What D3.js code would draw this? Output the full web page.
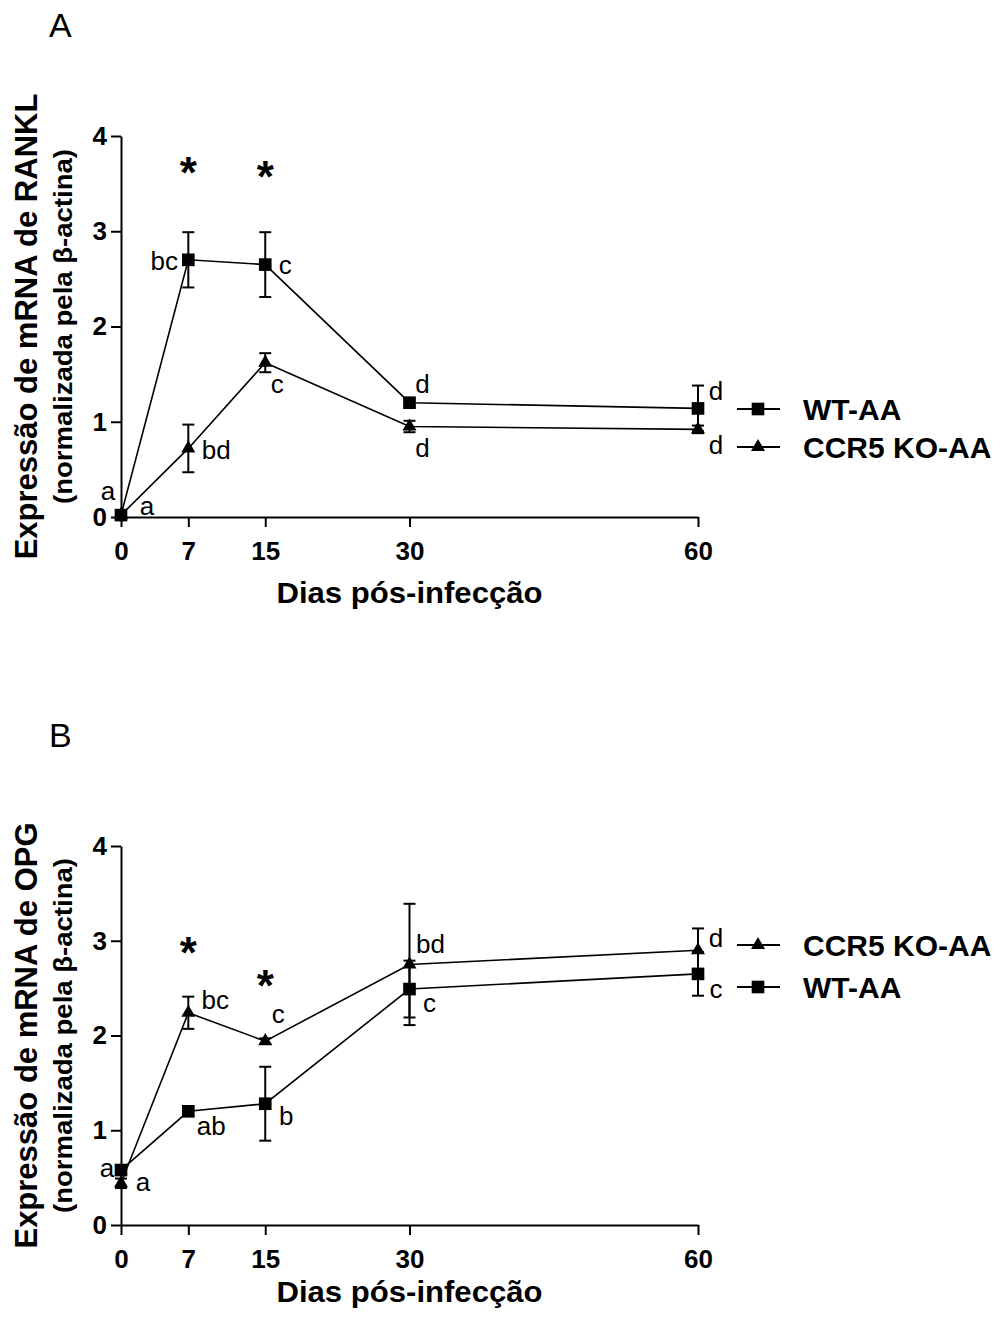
<!DOCTYPE html>
<html>
<head>
<meta charset="utf-8">
<script src="https://cdn.jsdelivr.net/npm/d3@7"></script>
<style>
  body { margin: 0; background: white; }
  text { font-family: "Liberation Sans", Arial, sans-serif; }
</style>
</head>
<body>
<svg></svg>
<script>
var days = [0, 7, 15, 30, 60];

// painel A - RANKL
var ranklWT = [0.02, 2.70, 2.65, 1.20, 1.14];
var ranklWTErr = [0.02, 0.29, 0.34, 0.04, 0.24];
var ranklKO = [0.02, 0.72, 1.62, 0.95, 0.92];
var ranklKOErr = [0.02, 0.25, 0.10, 0.06, 0.04];
var ranklWTLetters = ['a', 'bc', 'c', 'd', 'd'];
var ranklKOLetters = ['a', 'bd', 'c', 'd', 'd'];
var ranklStarDays = [7, 15];
var ranklStarY = [3.73, 3.68];

// painel B - OPG
var opgWT = [0.58, 1.20, 1.28, 2.49, 2.65];
var opgWTErr = [0.03, 0.04, 0.39, 0.30, 0.23];
var opgKO = [0.44, 2.24, 1.94, 2.75, 2.90];
var opgKOErr = [0.05, 0.17, 0.03, 0.64, 0.23];
var opgWTLetters = ['a', 'ab', 'b', 'c', 'c'];
var opgKOLetters = ['a', 'bc', 'c', 'bd', 'd'];
var opgStarDays = [7, 15];
var opgStarY = [2.99, 2.64];

var yTicks = [0, 1, 2, 3, 4];

var svgWidth = 1008, svgHeight = 1317;

var svg = d3.select('svg')
    .attr('width', svgWidth)
    .attr('height', svgHeight)
    .style('background-color', 'white');

var x = d3.scaleLinear().domain([0, 60]).range([121, 698]);

function drawPanel(p) {
    var y = d3.scaleLinear().domain([0, 4]).range([p.y0, p.y4]);
    var g = svg.append('g');

    // panel letter
    g.append('text')
        .attr('x', 49)
        .attr('y', p.letterY)
        .attr('font-size', '34px')
        .text(p.letter);

    // axes
    var yAxis = g.append('g')
        .attr('transform', 'translate(121,0)')
        .call(d3.axisLeft(y).tickValues(yTicks).tickFormat(d3.format('d'))
            .tickSize(10).tickSizeOuter(0).tickPadding(4));
    var xAxis = g.append('g')
        .attr('transform', 'translate(0,' + p.y0 + ')')
        .call(d3.axisBottom(x).tickValues(days).tickFormat(d3.format('d'))
            .tickSize(10).tickSizeOuter(0).tickPadding(p.xPad));
    [yAxis, xAxis].forEach(function(a) {
        a.selectAll('path, line').attr('stroke', 'black').attr('stroke-width', 2);
        a.selectAll('text')
            .attr('fill', 'black')
            .attr('font-size', '26px')
            .attr('font-weight', 'bold')
            .attr('font-family', '"Liberation Sans", Arial, sans-serif');
    });

    // axis titles
    g.append('text')
        .attr('x', 409.5)
        .attr('y', p.xTitleY)
        .attr('text-anchor', 'middle')
        .attr('font-size', '30px')
        .attr('font-weight', 'bold')
        .attr('textLength', 266)
        .attr('lengthAdjust', 'spacingAndGlyphs')
        .text('Dias pós-infecção');

    var yc = (p.y0 + p.y4) / 2;
    g.append('text')
        .attr('transform', 'translate(37,' + yc + ') rotate(-90)')
        .attr('text-anchor', 'middle')
        .attr('font-size', '31px')
        .attr('font-weight', 'bold')
        .text(p.yTitle);
    g.append('text')
        .attr('transform', 'translate(72,' + yc + ') rotate(-90)')
        .attr('text-anchor', 'middle')
        .attr('font-size', '25px')
        .attr('font-weight', 'bold')
        .attr('textLength', 355)
        .attr('lengthAdjust', 'spacingAndGlyphs')
        .text('(normalizada pela β-actina)');

    var line = d3.line()
        .x(function(d, i) { return x(days[i]); })
        .y(function(d) { return y(d); });

    p.series.forEach(function(s) {
        // error bars
        var eb = g.selectAll(null)
            .data(s.values)
            .enter()
            .append('g')
            .attr('stroke', 'black')
            .attr('stroke-width', 2);
        eb.append('line')
            .attr('x1', function(d, i) { return x(days[i]); })
            .attr('x2', function(d, i) { return x(days[i]); })
            .attr('y1', function(d, i) { return y(d - s.err[i]); })
            .attr('y2', function(d, i) { return y(d + s.err[i]); });
        eb.append('line')
            .attr('x1', function(d, i) { return x(days[i]) - 6; })
            .attr('x2', function(d, i) { return x(days[i]) + 6; })
            .attr('y1', function(d, i) { return y(d + s.err[i]); })
            .attr('y2', function(d, i) { return y(d + s.err[i]); });
        eb.append('line')
            .attr('x1', function(d, i) { return x(days[i]) - 6; })
            .attr('x2', function(d, i) { return x(days[i]) + 6; })
            .attr('y1', function(d, i) { return y(d - s.err[i]); })
            .attr('y2', function(d, i) { return y(d - s.err[i]); });

        g.append('path')
            .datum(s.values)
            .attr('d', line)
            .attr('fill', 'none')
            .attr('stroke', 'black')
            .attr('stroke-width', 1.6);
    });

    p.series.forEach(function(s) {
        g.selectAll(null)
            .data(s.values)
            .enter()
            .append('path')
            .attr('d', d3.symbol().type(s.symbol).size(s.size))
            .attr('transform', function(d, i) {
                return 'translate(' + x(days[i]) + ',' + y(d) + ')';
            })
            .attr('fill', 'black');

        // letras de significancia
        g.selectAll(null)
            .data(s.letters)
            .enter()
            .append('text')
            .attr('x', function(d, i) { return x(days[i]) + s.off[i][0]; })
            .attr('y', function(d, i) { return y(s.values[i]) + s.off[i][1]; })
            .attr('text-anchor', 'middle')
            .attr('font-size', '26px')
            .text(function(d) { return d; });

        // legend
        g.append('line')
            .attr('x1', 737).attr('x2', 780)
            .attr('y1', s.legendY).attr('y2', s.legendY)
            .attr('stroke', 'black')
            .attr('stroke-width', 2);
        g.append('path')
            .attr('d', d3.symbol().type(s.symbol).size(s.size))
            .attr('transform', 'translate(758,' + s.legendY + ')');
        g.append('text')
            .attr('x', 803)
            .attr('y', s.legendY + 11)
            .attr('font-size', '30px')
            .attr('font-weight', 'bold')
            .text(s.name);
    });

    g.selectAll(null)
        .data(p.stars)
        .enter()
        .append('text')
        .attr('x', function(d, i) { return x(d); })
        .attr('y', function(d, i) { return y(p.starY[i]) + 26; })
        .attr('text-anchor', 'middle')
        .attr('font-size', '44px')
        .attr('font-weight', 'bold')
        .text('*');
}

drawPanel({
    letter: 'A', letterY: 37,
    y0: 517, y4: 136, xPad: 15, xTitleY: 603,
    yTitle: 'Expressão de mRNA de RANKL',
    stars: ranklStarDays, starY: ranklStarY,
    series: [
        { name: 'WT-AA', values: ranklWT, err: ranklWTErr, letters: ranklWTLetters,
          symbol: d3.symbolSquare, size: 160, legendY: 409,
          off: [[-13, -15], [-24, 10], [20, 9], [13, -10], [18, -8]] },
        { name: 'CCR5 KO-AA', values: ranklKO, err: ranklKOErr, letters: ranklKOLetters,
          symbol: d3.symbolTriangle, size: 85, legendY: 447,
          off: [[26, 0], [28, 11], [12, 30], [13, 30], [18, 25]] }
    ]
});

drawPanel({
    letter: 'B', letterY: 747,
    y0: 1225, y4: 846, xPad: 15, xTitleY: 1302,
    yTitle: 'Expressão de mRNA de OPG',
    stars: opgStarDays, starY: opgStarY,
    series: [
        { name: 'WT-AA', values: opgWT, err: opgWTErr, letters: opgWTLetters,
          symbol: d3.symbolSquare, size: 160, legendY: 987,
          off: [[-14, 7], [23, 24], [21, 21], [20, 23], [18, 24]] },
        { name: 'CCR5 KO-AA', values: opgKO, err: opgKOErr, letters: opgKOLetters,
          symbol: d3.symbolTriangle, size: 85, legendY: 945,
          off: [[22, 8], [27, -4], [13, -18], [21, -11], [18, -3]] }
    ]
});
</script>
</body>
</html>
